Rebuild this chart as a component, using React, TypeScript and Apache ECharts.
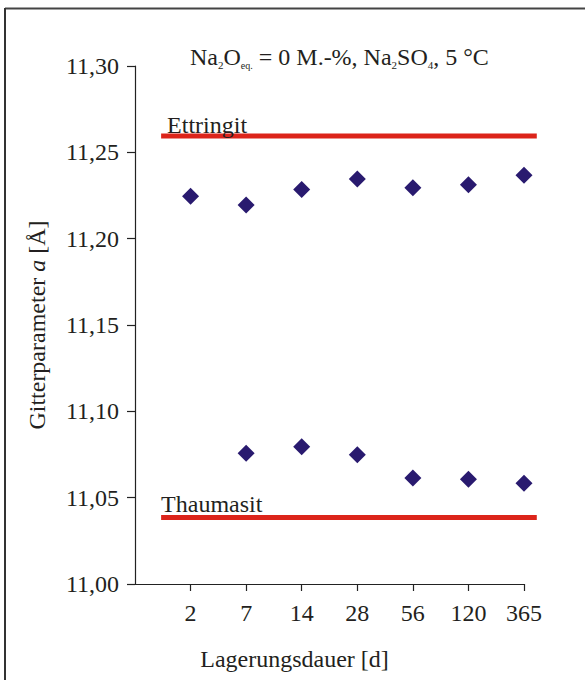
import React, { useEffect, useRef } from "react";
import * as echarts from "echarts";

const days = ["2", "7", "14", "28", "56", "120", "365"];
const ettringitA = [11.2245, 11.2195, 11.2285, 11.2345, 11.2295, 11.2312, 11.2368];
const thaumasitA = [null, 11.0757, 11.0795, 11.0749, 11.0614, 11.0606, 11.0583];
const refNames = ["Ettringit", "Thaumasit"];
const refValues = [11.2595, 11.0385];
const refSpan = [0.47, 7.23];
const yTicks = { min: 11.0, max: 11.3, step: 0.05 };

const FONT = "Liberation Serif";
const TXT = "#231f20";
const FS = 24;
const labelDx = [6, 0];
const labelDy = [1, -2];

export default function App() {
  const ref = useRef<HTMLDivElement>(null);
  useEffect(() => {
    if (!ref.current) return;
    const chart = echarts.init(ref.current, null, { renderer: "svg" });
    const idx = days.map((_, i) => i + 1);
    const pts = (arr: (number | null)[]) =>
      arr.map((v, i) => (v == null ? null : [i + 1, v])).filter((p) => p !== null);
    chart.setOption({
      animation: false,
      backgroundColor: "#fff",
      title: {
        text: "Na{s|2}O{s2|eq.} = 0 M.-%, Na{s|2}SO{s|4}, 5 °C",
        left: 185,
        top: 38,
        textStyle: {
          fontFamily: FONT,
          fontSize: FS,
          fontWeight: "normal",
          color: TXT,
          lineHeight: 27,
          rich: {
            s: { fontFamily: FONT, fontSize: 11, color: TXT, verticalAlign: "bottom", lineHeight: 12 },
            s2: { fontFamily: FONT, fontSize: 10, color: TXT, verticalAlign: "bottom", lineHeight: 12 },
          },
        },
      },
      grid: { left: 135, right: 61, top: 66, bottom: 96 },
      xAxis: {
        type: "value",
        min: 0,
        max: 7,
        interval: 1,
        splitLine: { show: false },
        axisLine: { show: true, lineStyle: { color: "#222", width: 1.2 } },
        axisTick: { show: true, length: 7, customValues: idx, lineStyle: { color: "#222", width: 1.2 } },
        axisLabel: {
          customValues: idx,
          formatter: (v: number) => days[Math.round(v) - 1] ?? "",
          fontFamily: FONT,
          fontSize: FS,
          color: TXT,
          margin: 17,
        },
        name: "Lagerungsdauer [d]",
        nameLocation: "middle",
        nameGap: 63,
        nameTextStyle: { fontFamily: FONT, fontSize: FS, color: TXT, padding: [0, 70, 0, 0] },
      },
      yAxis: {
        type: "value",
        min: yTicks.min,
        max: yTicks.max,
        interval: yTicks.step,
        splitLine: { show: false },
        axisLine: { show: true, lineStyle: { color: "#222", width: 1.2 } },
        axisTick: { show: true, length: 8, lineStyle: { color: "#222", width: 1.2 } },
        axisLabel: {
          formatter: (v: number) => v.toFixed(2).replace(".", ","),
          fontFamily: FONT,
          fontSize: FS,
          color: TXT,
          margin: 16,
        },
        name: "Gitterparameter {i|a} [Å]",
        nameLocation: "middle",
        nameRotate: 90,
        nameGap: 86,
        nameTextStyle: {
          fontFamily: FONT,
          fontSize: FS,
          color: TXT,
          rich: { i: { fontFamily: FONT, fontSize: FS, fontStyle: "italic", color: TXT } },
        },
      },
      series: [
        {
          name: "Referenz",
          type: "custom",
          silent: true,
          clip: false,
          encode: { x: [0, 1], y: 2 },
          data: refValues.map((v, i) => [refSpan[0], refSpan[1], v, i]),
          renderItem: (params: any, api: any) => {
            const v = api.value(2);
            const i = api.value(3);
            const a = api.coord([0, v]);
            const b = api.coord([1, v]);
            const unit = b[0] - a[0];
            const x0 = a[0] + unit * api.value(0);
            const x1 = a[0] + unit * api.value(1);
            const y = a[1];
            return {
              type: "group",
              children: [
                {
                  type: "line",
                  shape: { x1: x0, y1: y, x2: x1, y2: y },
                  style: { stroke: "#dc241a", lineWidth: 5 },
                },
                {
                  type: "text",
                  x: x0 + labelDx[i],
                  y: y + labelDy[i],
                  style: {
                    text: refNames[i],
                    fill: TXT,
                    fontSize: FS,
                    fontFamily: FONT,
                    align: "left",
                    verticalAlign: "bottom",
                  },
                },
              ],
            };
          },
        },
        {
          name: "Ettringit a",
          type: "scatter",
          symbol: "diamond",
          symbolSize: 17,
          clip: false,
          itemStyle: { color: "#291a6f", opacity: 1 },
          data: pts(ettringitA),
        },
        {
          name: "Thaumasit a",
          type: "scatter",
          symbol: "diamond",
          symbolSize: 17,
          clip: false,
          itemStyle: { color: "#291a6f", opacity: 1 },
          data: pts(thaumasitA),
        },
      ],
      graphic: [
        { type: "line", shape: { x1: 5, y1: 8.5, x2: 585, y2: 8.5 }, style: { stroke: "#444", lineWidth: 2 } },
        { type: "line", shape: { x1: 5, y1: 8, x2: 5, y2: 680 }, style: { stroke: "#333", lineWidth: 2 } },
      ],
    });
    return () => chart.dispose();
  }, []);
  return (
    <div
      ref={ref}
      style={{ position: "absolute", left: 0, top: 0, width: 585, height: 680, background: "#fff" }}
    />
  );
}
